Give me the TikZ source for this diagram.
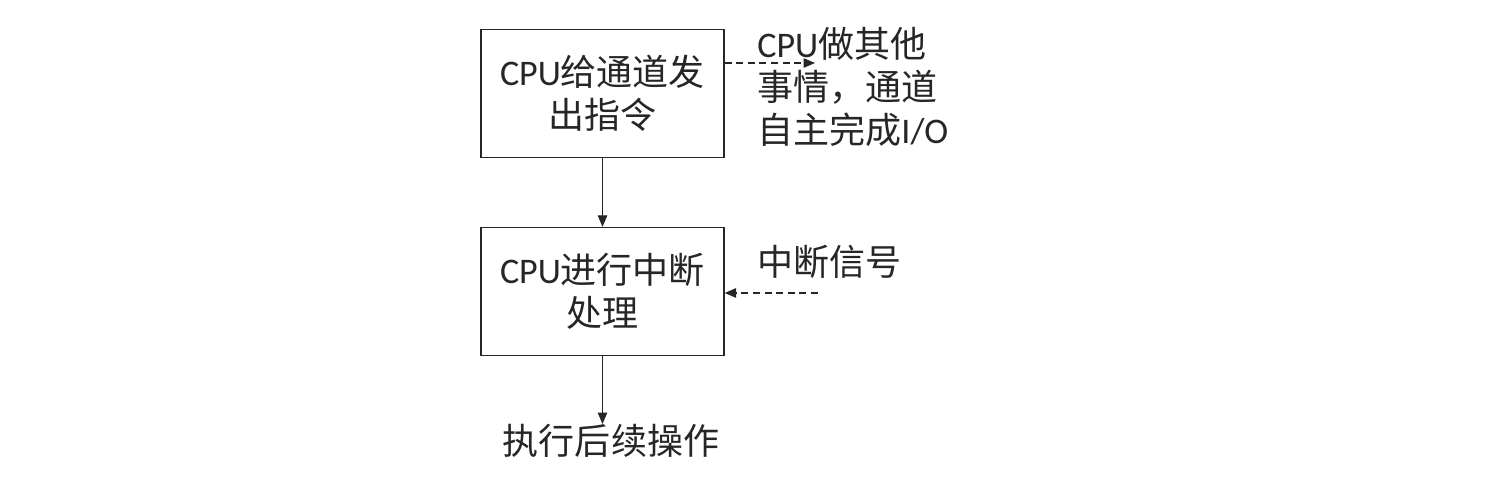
\documentclass[tikz,border=0pt]{standalone}
\usepackage{fontspec}
\setmainfont{Carlito}
\newfontfamily\cjk{Noto Sans CJK SC}
\usepackage{tikz}
\usetikzlibrary{arrows.meta,positioning,calc}
\definecolor{flowgray}{HTML}{262626}

\begin{document}
\begin{tikzpicture}[
    x=0.02cm,
    y=-0.02cm,
    font=\fontsize{20.5}{24.5}\selectfont,
    text=flowgray,
    stepbox/.style={rectangle, draw=flowgray, line width=0.75pt, minimum width=4.86cm, minimum height=2.56cm, align=center, inner sep=0pt, fill=white},
    note/.style={align=left, anchor=west, inner sep=0pt},
    flow/.style={-{Triangle[length=2.3mm,width=1.9mm]}, line width=0.7pt, draw=flowgray},
    side/.style={flow, dash pattern=on 4pt off 2.6pt}
  ]
    \useasboundingbox (0,0) rectangle (1505,499);

    \node[stepbox] (cmd) at (602.5,93.5) {CPU{\cjk 给通道发}\\{\cjk 出指令}};
    \node[stepbox] (proc) at (602.5,291.5) {CPU{\cjk 进行中断}\\{\cjk 处理}};
    \node[inner sep=0pt] (next) at (611,441) {\cjk 执行后续操作};
    \node[note] (other) at (757,87) {CPU{\cjk 做其他}\\{\cjk 事情，通道}\\{\cjk 自主完成}I/O};
    \node[note] (irq) at (757,262) {\cjk 中断信号};

    \coordinate (t1) at (815,63);
    \coordinate (s2) at (818,293);

    \draw[flow] (cmd.south) -- (proc.north);
    \draw[flow] (proc.south) -- (proc.south |- next.north);
    \draw[side] (cmd.east |- t1) -- (t1);
    \draw[side] (s2) -- (proc.east |- s2);
  \end{tikzpicture}
\end{document}
